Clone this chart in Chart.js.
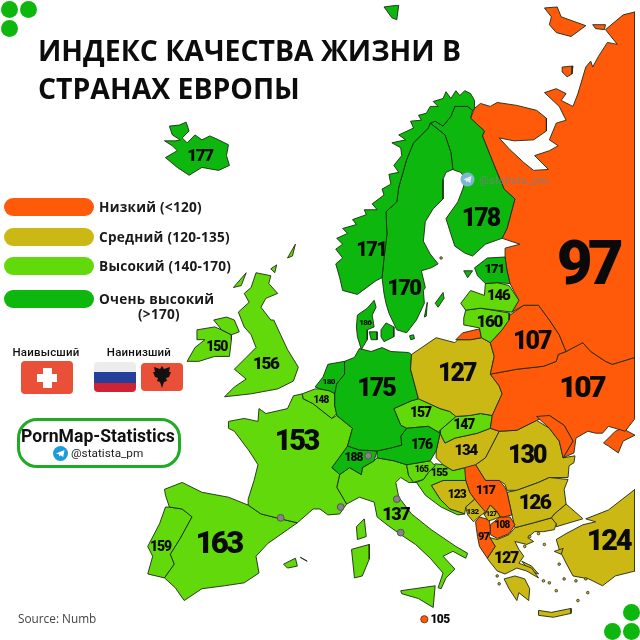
<!DOCTYPE html>
<html>
<head>
<meta charset="utf-8">
<title>Индекс качества жизни</title>
<script src="https://cdn.jsdelivr.net/npm/chart.js@4/dist/chart.umd.min.js"></script>
<style>
  body { margin: 0; background: #fff; }
  #page { position: relative; width: 640px; height: 640px; overflow: hidden; font-family: "Open Sans", sans-serif; color: #111; }
  #page canvas { position: absolute; left: 0; top: 0; }
  .abs { position: absolute; white-space: nowrap; }
  h1 { position: absolute; left: 38px; top: 32px; margin: 0; font-size: 28.4px; line-height: 37.5px; font-weight: 700; color: #0c0c0c; white-space: nowrap; }
  .dot { position: absolute; width: 17px; height: 17px; border-radius: 50%; background: #0db70d; }
  .pill { position: absolute; left: 4px; width: 90px; height: 18px; border-radius: 9px; }
  .key { position: absolute; left: 99px; font-size: 13.6px; font-weight: 700; letter-spacing: .25px; line-height: 18px; color: #1a1a1a; white-space: nowrap; }
  .flagcap { position: absolute; font: 500 11.5px Roboto, sans-serif; letter-spacing: .2px; text-align: center; width: 90px; }
  .flag { position: absolute; border-radius: 4px; overflow: hidden; }
  #logo { position: absolute; left: 17px; top: 418px; width: 158px; height: 44px; border: 3px solid #1fab24; border-radius: 20px; background: #fff; }
</style>
</head>
<body>
<div id="page">
  <canvas id="map" width="640" height="640"></canvas>

  <h1>ИНДЕКС КАЧЕСТВА ЖИЗНИ В<br>СТРАНАХ ЕВРОПЫ</h1>

  <div class="dot" style="left:1px;top:1px"></div>
  <div class="dot" style="left:20px;top:1px"></div>
  <div class="dot" style="left:1px;top:20px"></div>
  <div class="dot" style="left:623px;top:604px"></div>
  <div class="dot" style="left:604px;top:623px"></div>
  <div class="dot" style="left:623px;top:623px"></div>

  <div id="legend"></div>

  <div class="flagcap" style="left:1px;top:345px">Наивысший</div>
  <div class="flagcap" style="left:94px;top:345px">Наинизший</div>
  <div class="flag" style="left:21px;top:361px;width:52px;height:33px;background:#ea5038">
    <div class="abs" style="left:22px;top:7px;width:9px;height:20px;background:#fff"></div>
    <div class="abs" style="left:16px;top:13px;width:20px;height:8px;background:#fff"></div>
  </div>
  <div class="flag" style="left:94px;top:362px;width:42px;height:30px;background:linear-gradient(#ececec 33%,#25409a 33%,#25409a 70%,#cf2233 70%)"></div>
  <div class="flag" style="left:141px;top:363px;width:42px;height:28px;background:#ea5038">
    <svg width="42" height="28" style="display:block"><path fill="#111" d="M21 3l2 3 6-2-1 5 2 0-2 5-3 1 1 3-3 1-2 6-2-6-3-1 1-3-3-1-2-5 2 0-1-5 6 2z"/></svg>
  </div>

  <div id="logo"></div>
  <div class="abs" style="left:0;top:426px;width:196px;text-align:center;font:700 17.6px Roboto,sans-serif;color:#111">PornMap-Statistics</div>
  <svg class="abs" style="left:53px;top:446px" width="15" height="15"><circle cx="7.5" cy="7.5" r="7.5" fill="#1e9bdb"/><path fill="#fff" d="M3 7.5l8.5-3.4-1.3 7-2.6-1.9-1.3 1.3-.3-2.2z"/></svg>
  <div class="abs" style="left:71px;top:446px;font:400 11.8px Roboto,sans-serif;color:#222">@statista_pm</div>

  <svg class="abs" style="left:460px;top:172px" width="15" height="15"><circle cx="7.5" cy="7.5" r="7" fill="#7fb6cf"/><path fill="#dfeef5" d="M3 7.5l8.5-3.4-1.3 7-2.6-1.9-1.3 1.3-.3-2.2z"/></svg>
  <div class="abs" style="left:479px;top:174px;font:400 11px Roboto,sans-serif;letter-spacing:.2px;color:rgba(120,130,125,.85)">@statista_pm</div>

  <div class="abs" style="left:18px;top:610px;font-size:11.8px;color:#444">Source: Numb</div>
</div>

<script>
const legendLabels = ['Низкий (<120)', 'Средний (120-135)', 'Высокий (140-170)', 'Очень высокий'];
const legendExtra = '(>170)';
const levelColors = ['#ff5a0a', '#cbb815', '#62d90a', '#0db70d'];

const countries = ['Исландия', 'Норвегия', 'Швеция', 'Финляндия', 'Эстония', 'Латвия', 'Литва', 'Дания', 'Россия', 'Беларусь', 'Украина',
  'Польша', 'Германия', 'Нидерланды', 'Бельгия', 'Франция', 'Испания', 'Португалия', 'Великобритания', 'Ирландия', 'Швейцария', 'Австрия',
  'Чехия', 'Словакия', 'Венгрия', 'Словения', 'Хорватия', 'Босния', 'Косово', 'Черногория', 'Сербия', 'Албания', 'Македония', 'Болгария',
  'Румыния', 'Греция', 'Турция', 'Италия'];
const qualityIndex = [177, 171, 170, 178, 171, 146, 160, 186, 97, 107, 107,
  127, 175, 180, 148, 153, 163, 159, 156, 150, 188, 176,
  157, 147, 134, 165, 155, 123, 127, 132, 117, 97, 108, 126,
  130, 127, 124, 137];
const labelX = [198, 372, 405, 483, 497, 501, 492, 366, 592, 535, 586,
  459, 377, 329, 321, 296, 217, 158, 265, 215, 354, 423,
  422, 466, 468, 423, 441, 459, 494, 475, 488, 486, 505, 538,
  530, 509, 613, 397];
const labelY = [154, 250, 289, 218, 269, 296, 323, 323, 268, 343, 391,
  376, 391, 383, 402, 445, 549, 551, 365, 348, 460, 447,
  415, 427, 453, 472, 476, 498, 517, 515, 493, 541, 529, 507,
  459, 563, 546, 519];
const labelSize = [17, 20, 22, 25, 13, 15, 17, 8, 62, 25, 30,
  25, 25, 8, 10, 29, 31, 14, 17, 14, 12, 14,
  14, 14, 15, 9, 11, 12, 7, 8, 13, 11, 10, 21,
  25, 16, 29, 18];

// map outlines, in the picture's own x/y units
const outlines = [
  [[[167,123],[177,122],[184,119],[187,128],[180,135],[185,140],[193,132],[200,137],[208,133],[217,137],[227,142],[225,153],[228,163],[217,168],[200,165],[187,173],[175,165],[163,155],[175,148],[170,143],[162,138],[173,138],[178,137],[170,132]]],
  [[[477,105],[477,97],[473,90],[467,87],[462,92],[458,87],[453,95],[448,88],[445,95],[435,98],[440,103],[432,103],[428,110],[420,112],[423,117],[412,118],[415,125],[400,132],[407,137],[393,140],[402,145],[403,153],[395,163],[400,170],[390,172],[392,182],[383,187],[385,193],[373,202],[378,208],[365,208],[367,213],[353,218],[357,223],[343,227],[348,232],[337,237],[343,243],[336,248],[343,257],[336,263],[340,277],[343,290],[358,294],[377,280],[383,277],[385,257],[388,233],[387,210],[398,200],[400,185],[408,157],[415,140],[430,125],[432,120],[437,118],[445,123],[453,113],[457,103],[470,103],[475,107]],
   [[385,2],[400,0],[398,15],[393,13],[388,6]]],
  [[[432,120],[447,132],[453,150],[455,167],[448,170],[445,177],[445,197],[435,207],[427,220],[425,240],[432,253],[440,263],[433,267],[423,270],[427,287],[425,290],[426,303],[418,320],[408,333],[398,330],[390,313],[387,303],[385,293],[383,277],[385,257],[388,233],[387,210],[398,200],[400,185],[408,157],[415,140],[430,125]],
   [[437,303],[445,292],[446,298],[440,307]],
   [[426,317],[429,302],[428,316]],
   [[411,336],[415,335],[416,339],[412,340]]],
  [[[432,120],[437,118],[445,123],[453,113],[457,103],[470,103],[475,107],[473,115],[487,128],[485,133],[497,163],[507,187],[518,197],[510,227],[505,237],[488,243],[475,255],[467,252],[457,245],[453,233],[448,217],[460,200],[465,187],[468,177],[463,170],[457,168],[455,167],[453,150],[447,132]]],
  [[[477,267],[490,257],[508,256],[510,270],[513,283],[500,282],[488,283],[480,275]],
   [[466,270],[475,270],[470,277]]],
  [[[463,303],[473,290],[487,295],[488,283],[500,282],[512,285],[522,300],[515,312],[483,308],[468,310]]],
  [[[468,310],[483,308],[513,313],[512,320],[505,330],[493,343],[484,338],[482,328],[466,325],[466,318]]],
  [[[358,315],[368,308],[375,300],[377,307],[373,315],[375,327],[368,330],[368,340],[362,350],[358,337],[357,327]],
   [[382,330],[387,323],[395,327],[395,337],[385,342],[382,337]],
   [[370,332],[378,332],[378,340],[372,340]]],
  [[[473,115],[477,105],[483,100],[493,103],[500,99],[520,102],[540,107],[550,115],[550,128],[537,137],[517,138],[502,135],[513,147],[527,160],[537,168],[552,167],[538,153],[553,148],[562,143],[553,137],[560,120],[570,117],[563,103],[548,89],[560,85],[570,90],[565,97],[577,103],[582,90],[590,63],[595,57],[597,63],[603,52],[612,38],[622,40],[610,25],[628,10],[640,7],[640,358],[617,365],[610,362],[595,352],[587,343],[570,352],[563,335],[553,320],[542,305],[527,305],[515,312],[522,300],[513,283],[510,270],[508,257],[508,247],[523,243],[505,237],[510,227],[518,197],[507,187],[497,163],[485,133],[487,128]],
   [[458,340],[465,333],[482,329],[484,338],[473,340]],
   [[548,3],[561,2],[565,12],[590,21],[575,32],[560,28],[553,20],[555,12]],
   [[597,20],[610,20],[609,25],[600,24]],
   [[566,63],[577,62],[576,70],[571,73],[566,68]]],
  [[[510,320],[513,315],[527,305],[542,305],[553,320],[563,335],[570,352],[562,355],[560,362],[547,367],[520,370],[493,375],[497,357],[493,343],[505,330]]],
  [[[540,418],[553,417],[568,427],[577,443],[567,460],[563,443],[553,430]],
   [[493,375],[520,370],[547,367],[560,362],[562,355],[570,352],[587,343],[595,352],[610,362],[617,365],[640,358],[640,420],[630,433],[613,428],[607,435],[600,435],[592,433],[580,440],[578,455],[567,460],[577,443],[568,427],[553,417],[540,422],[520,432],[502,433],[493,430],[495,417],[505,395],[502,387]],
   [[608,445],[620,433],[627,430],[640,437],[628,443],[623,455],[613,448]]],
  [[[413,355],[438,338],[457,343],[460,340],[473,340],[484,338],[493,343],[497,357],[493,375],[502,387],[505,395],[495,417],[483,415],[472,417],[458,418],[452,413],[442,410],[420,400],[412,370]]],
  [[[360,349],[372,352],[383,348],[392,352],[410,353],[413,355],[412,370],[420,400],[413,402],[395,410],[402,427],[408,430],[402,438],[403,447],[392,450],[378,453],[360,452],[348,448],[353,430],[337,417],[335,407],[335,395],[337,385],[345,375],[345,362],[355,358]]],
  [[[323,378],[328,365],[345,362],[345,375],[337,385],[335,395],[330,392],[320,390],[315,388]]],
  [[[302,395],[315,390],[320,390],[330,392],[335,395],[335,407],[337,415],[332,420],[323,413],[313,405],[303,400]]],
  [[[227,423],[243,420],[257,423],[258,410],[265,415],[287,410],[293,397],[302,395],[303,400],[313,405],[323,413],[332,420],[337,417],[353,430],[348,448],[332,470],[340,477],[337,490],[347,507],[340,517],[328,518],[320,512],[313,512],[297,526],[280,522],[260,517],[247,508],[247,502],[253,483],[257,467],[248,453],[233,433],[227,430]],
   [[357,530],[365,522],[367,540],[358,543]]],
  [[[162,492],[180,485],[200,495],[227,500],[247,508],[260,517],[280,522],[297,526],[287,533],[267,547],[255,560],[258,577],[243,587],[223,590],[200,593],[182,605],[173,592],[162,582],[172,568],[168,558],[178,542],[190,520],[180,512],[167,510],[163,498]],
   [[283,568],[295,562],[297,570],[287,572]],
   [[300,561],[307,565],[303,563]]],
  [[[167,510],[180,512],[190,520],[178,542],[168,558],[172,568],[162,582],[145,578],[150,560],[145,550],[157,527],[163,510]]],
  [[[255,272],[270,275],[268,283],[277,293],[265,298],[260,307],[270,320],[273,320],[280,335],[287,350],[298,368],[293,382],[277,390],[250,395],[223,398],[233,388],[245,380],[233,370],[245,358],[255,348],[250,335],[243,327],[237,312],[248,302],[243,293],[250,287]],
   [[212,320],[225,317],[233,320],[238,332],[230,335],[220,330]],
   [[287,257],[295,243],[292,255]],
   [[270,268],[276,264],[274,272]],
   [[232,287],[245,272],[240,285]]],
  [[[195,330],[213,327],[220,330],[230,335],[230,340],[228,357],[213,357],[197,362],[185,362],[193,348],[203,340],[195,340]]],
  [[[332,470],[348,448],[360,452],[378,453],[375,463],[363,470],[362,477],[350,470],[340,477]]],
  [[[402,438],[408,430],[430,428],[442,435],[438,453],[432,463],[408,467],[395,463],[378,460],[378,453],[392,450],[403,447]]],
  [[[395,410],[413,402],[420,400],[442,410],[452,413],[458,418],[442,432],[442,435],[430,428],[408,430],[402,427]]],
  [[[458,418],[472,417],[483,415],[495,417],[493,430],[480,435],[457,440],[447,445],[442,435],[442,432]]],
  [[[442,435],[447,445],[457,440],[480,435],[493,430],[502,433],[488,460],[478,467],[467,470],[455,473],[445,467],[438,460],[438,453]]],
  [[[408,467],[432,463],[437,468],[430,475],[425,482],[415,485],[410,478]]],
  [[[437,466],[445,467],[455,473],[467,470],[468,483],[445,483],[433,488],[442,502],[452,512],[467,517],[460,518],[443,510],[427,498],[418,485],[425,482],[430,475]]],
  [[[433,488],[445,483],[468,483],[472,495],[477,502],[468,510],[467,517],[452,512],[442,502]]],
  [[[487,518],[493,508],[500,515],[503,520],[495,523],[491,524]]],
  [[[468,510],[477,502],[488,515],[480,521],[476,525],[470,518]]],
  [[[465,470],[473,465],[478,467],[488,483],[502,483],[508,490],[510,495],[515,518],[507,520],[503,520],[500,515],[493,508],[487,518],[477,502],[472,495],[468,483]]],
  [[[478,525],[482,520],[492,523],[493,533],[492,540],[498,550],[490,562],[482,550],[480,540]]],
  [[[493,528],[503,520],[513,520],[518,528],[512,537],[500,542],[493,538]]],
  [[[510,495],[520,493],[542,485],[553,480],[572,482],[568,492],[570,507],[558,517],[555,521],[537,526],[518,531],[515,518]]],
  [[[502,433],[520,432],[540,422],[553,430],[563,443],[567,460],[579,458],[578,465],[573,468],[572,480],[553,480],[542,485],[520,493],[510,493],[508,487],[502,483],[488,483],[478,467],[488,460]]],
  [[[492,541],[500,543],[512,538],[518,531],[537,526],[555,521],[560,527],[558,533],[547,535],[538,535],[531,541],[537,545],[530,548],[518,545],[522,553],[527,560],[522,567],[535,572],[542,582],[530,575],[520,572],[508,578],[500,575],[492,565],[490,562],[498,550]],
   [[507,583],[518,580],[528,583],[533,593],[532,605],[522,597],[520,605],[512,593]],
   [[542,615],[555,617],[575,613],[575,618],[557,622],[542,620]],
   [[525,565],[535,570],[542,578],[533,575]],
   [[558,555],[567,552],[565,558]]],
  [[[555,521],[558,517],[570,507],[585,520],[587,522],[570,527],[560,530],[560,527]],
   [[590,522],[613,513],[640,492],[640,575],[620,580],[607,590],[593,583],[577,580],[570,567],[563,553],[560,543],[570,537],[587,528],[600,525]]],
  [[[340,477],[350,470],[362,477],[363,470],[375,463],[378,460],[395,463],[408,467],[410,478],[418,485],[410,485],[402,480],[397,485],[400,500],[413,517],[433,533],[458,550],[470,557],[468,562],[455,555],[445,560],[457,573],[448,582],[443,593],[440,592],[445,577],[432,562],[417,548],[402,538],[388,528],[378,520],[375,505],[360,500],[347,507],[337,490]],
   [[352,553],[370,548],[370,563],[363,580],[355,582]],
   [[402,595],[437,590],[435,612],[420,603],[403,598]]]
];

const microstateX = [369, 398, 341, 402, 280];
const microstateY = [458, 502, 510, 536, 521];
const maltaX = [426];
const maltaY = [624];
const maltaValue = 105;
const isleX = [542, 548, 533, 528, 563, 547, 553, 560, 568, 580, 590, 582, 592, 500, 502, 443];
const isleY = [537, 548, 540, 550, 568, 585, 587, 595, 583, 585, 583, 605, 597, 580, 588, 257];

function levelColor(v) {
  if (v < 120) return levelColors[0];
  if (v <= 135) return levelColors[1];
  if (v < 170) return levelColors[2];
  return levelColors[3];
}

function toPoints(xs, ys) {
  return xs.map((x, i) => ({ x: x, y: ys[i] }));
}

const datasets = [];
datasets.push({ label: 'микрогосударства', data: toPoints(microstateX, microstateY), pointRadius: 3.4, backgroundColor: '#858585', borderColor: '#555', borderWidth: 1, order: 0 });
datasets.push({ label: 'Мальта', data: toPoints(maltaX, maltaY), pointRadius: 3.6, backgroundColor: levelColor(maltaValue), borderColor: '#7a3a10', borderWidth: 1, order: 0 });
datasets.push({ label: 'острова', data: toPoints(isleX, isleY), pointRadius: 1.3, backgroundColor: levelColors[1], borderColor: '#111', borderWidth: .7, order: 1 });

countries.forEach((name, i) => {
  outlines[i].forEach(poly => {
    datasets.push({
      label: name,
      data: poly.concat([poly[0]]).map(p => ({ x: p[0], y: p[1] })),
      showLine: true,
      fill: 'shape',
      tension: 0,
      pointRadius: 0,
      borderWidth: .9,
      borderColor: '#1c2a12',
      backgroundColor: levelColor(qualityIndex[i]),
      order: 2
    });
  });
});

const valueLabels = {
  id: 'valueLabels',
  afterDatasetsDraw(chart) {
    const c = chart.ctx;
    const sx = chart.scales.x;
    const sy = chart.scales.y;
    c.save();
    c.fillStyle = '#0a0a0a';
    c.textAlign = 'center';
    c.textBaseline = 'middle';
    countries.forEach((name, i) => {
      c.font = '900 ' + labelSize[i] + 'px Roboto, sans-serif';
      c.letterSpacing = (-0.08 * labelSize[i]) + 'px';
      c.fillText(String(qualityIndex[i]), sx.getPixelForValue(labelX[i]), sy.getPixelForValue(labelY[i]));
    });
    c.font = '900 12px Roboto, sans-serif';
    c.letterSpacing = '-0.5px';
    c.fillText(String(maltaValue), sx.getPixelForValue(442), sy.getPixelForValue(625));
    c.restore();
  }
};

new Chart(document.getElementById('map'), {
  type: 'scatter',
  data: { datasets: datasets },
  options: {
    responsive: false,
    animation: false,
    layout: { padding: 0 },
    scales: {
      x: { type: 'linear', min: 0, max: 640, display: false },
      y: { type: 'linear', min: 0, max: 640, reverse: true, display: false }
    },
    plugins: { legend: { display: false }, tooltip: { enabled: false } }
  },
  plugins: [valueLabels]
});

const legendBox = document.getElementById('legend');
const pillTops = [198, 228, 257, 290];
legendLabels.forEach((text, i) => {
  const pill = document.createElement('div');
  pill.className = 'pill';
  pill.style.top = pillTops[i] + 'px';
  pill.style.background = levelColors[i];
  legendBox.appendChild(pill);
  const key = document.createElement('div');
  key.className = 'key';
  key.style.top = pillTops[i] + 'px';
  key.textContent = text;
  legendBox.appendChild(key);
});
const extra = document.createElement('div');
extra.className = 'key';
extra.style.left = '138px';
extra.style.top = '305px';
extra.textContent = legendExtra;
legendBox.appendChild(extra);
</script>
</body>
</html>
